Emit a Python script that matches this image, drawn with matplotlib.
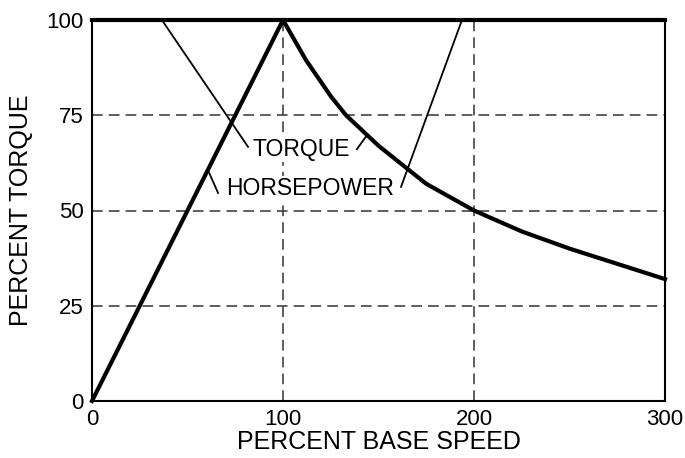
import matplotlib
matplotlib.use("Agg")
import matplotlib.pyplot as plt

# Motor characteristic: percent of base speed vs. percent torque / horsepower
speed_torque = [0, 100, 112, 125, 133, 150, 175, 200, 225, 250, 275, 300]
torque = [100, 100, 89.5, 80, 75, 67, 57, 50, 44.5, 40, 36, 32]

speed_hp = [0, 100, 300]
horsepower = [0, 100, 100]

x_ticks = [0, 100, 200, 300]
y_ticks = [0, 25, 50, 75, 100]

# Leader lines for the curve labels: (x0, y0, x1, y1) in data units
torque_leaders = [(36.6, 100, 81.7, 66.7), (138.7, 66.1, 144, 69.8)]
hp_leaders = [(60.7, 60.6, 66, 54.6), (161.8, 56.2, 193.7, 100)]

plt.rcParams["font.family"] = ["Liberation Sans", "DejaVu Sans"]

fig = plt.figure(figsize=(6.85, 4.58), dpi=100)
ax = fig.add_axes([92 / 685, 1 - 401 / 458, 573 / 685, 381 / 458])

ax.set_xlim(0, 300)
ax.set_ylim(0, 100)

# dashed grid at the interior ticks
for xv in x_ticks[1:-1]:
    ax.axvline(xv, color="#333333", lw=1.1, ls=(0, (7, 4)), zorder=1)
for yv in y_ticks[1:-1]:
    ax.axhline(yv, color="#333333", lw=1.1, ls=(0, (7, 4)), zorder=1)

ax.plot(speed_torque, torque, color="black", lw=3.0, clip_on=False, zorder=3)
ax.plot(speed_hp, horsepower, color="black", lw=3.0, clip_on=False,
        solid_joinstyle="miter", zorder=3)

for x0, y0, x1, y1 in torque_leaders + hp_leaders:
    ax.plot([x0, x1], [y0, y1], color="black", lw=1.3, clip_on=False, zorder=3)

ax.text(83.8, 65.9, "TORQUE", fontsize=16.5, ha="left", va="center", zorder=4,
        bbox=dict(facecolor="white", edgecolor="none", pad=0.5))
ax.text(70.2, 55.9, "HORSEPOWER", fontsize=16.5, ha="left", va="center", zorder=4,
        bbox=dict(facecolor="white", edgecolor="none", pad=0.5))

ax.set_xticks(x_ticks)
ax.set_yticks(y_ticks)
ax.set_xticklabels([str(v) for v in x_ticks], fontsize=16)
ax.set_yticklabels([str(v) for v in y_ticks], fontsize=16)
ax.tick_params(length=0, pad=6)

ax.set_xlabel("PERCENT BASE SPEED", fontsize=18, labelpad=0)
ax.set_ylabel("PERCENT TORQUE", fontsize=18, labelpad=10)

for side in ("left", "bottom", "right"):
    ax.spines[side].set_linewidth(1.5)
ax.spines["top"].set_visible(False)

fig.savefig("out.png", dpi=100)
